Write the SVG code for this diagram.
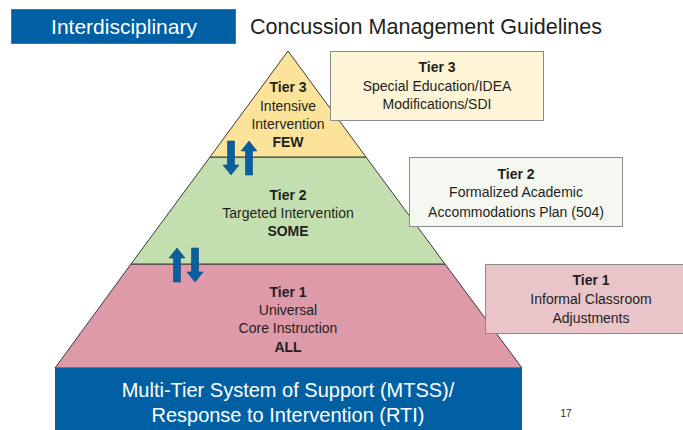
<svg xmlns="http://www.w3.org/2000/svg" width="683" height="430" viewBox="0 0 683 430">
<defs>
<style>
text{font-family:"Liberation Sans",Arial,sans-serif;fill:#231f20;text-anchor:middle}
.t{font-size:14px}
.b{font-weight:bold}
.w{fill:#ffffff}
.big{font-size:21px}
.tier{stroke:#3a3a3a;stroke-width:1}
.box{stroke:#8c8c8c;stroke-width:1}
.arr{fill:#0a5f9e;stroke:#084a7c;stroke-width:0.6}
</style>
<path id="down" d="M-3.5,0 H3.5 V24 H8 L0,34 L-8,24 H-3.5 Z"/>
</defs>
<rect width="683" height="430" fill="#ffffff"/>
<g id="header">
<rect x="11.5" y="9.5" width="224" height="34" fill="#0060a3" stroke="#5a6f80" stroke-width="1"/>
<text class="big w" x="124" y="34">Interdisciplinary</text>
<text class="big" x="250" y="34" style="text-anchor:start;font-size:21.5px" textLength="352" lengthAdjust="spacingAndGlyphs">Concussion Management Guidelines</text>
</g>
<g id="tier1">
<polygon class="tier" points="131,264 445,264 522,368 55,368" fill="#de9aa8"/>
<text class="t b" x="288" y="297">Tier 1</text>
<text class="t" x="288" y="315">Universal</text>
<text class="t" x="288" y="333">Core Instruction</text>
<text class="t b" x="288" y="352">ALL</text>
</g>
<g id="tier2">
<polygon class="tier" points="210,157 366,157 445,264 131,264" fill="#c3dfb0"/>
<text class="t b" x="288" y="200">Tier 2</text>
<text class="t" x="288" y="218">Targeted Intervention</text>
<text class="t b" x="288" y="236">SOME</text>
</g>
<g id="tier3">
<polygon class="tier" points="288,51 366,157 210,157" fill="#fbe49a"/>
<text class="t b" x="288" y="92">Tier 3</text>
<text class="t" x="288" y="111">Intensive</text>
<text class="t" x="288" y="129">Intervention</text>
<text class="t b" x="288" y="147">FEW</text>
</g>
<g id="base">
<rect x="55" y="368" width="467" height="62" fill="#0060a3"/>
<text class="w" style="font-size:20px" x="288" y="397">Multi-Tier System of Support (MTSS)/</text>
<text class="w" style="font-size:20px" x="288" y="422">Response to Intervention (RTI)</text>
</g>
<g id="box-tier3">
<rect class="box" x="330.5" y="51.5" width="213" height="69" fill="#fdf5d5"/>
<text class="t b" x="437" y="72">Tier 3</text>
<text class="t" x="437" y="91">Special Education/IDEA</text>
<text class="t" x="437" y="109">Modifications/SDI</text>
</g>
<g id="box-tier2">
<rect class="box" x="409.5" y="157.5" width="213" height="69" fill="#f5f8f1"/>
<text class="t b" x="516" y="179">Tier 2</text>
<text class="t" x="516" y="197">Formalized Academic</text>
<text class="t" x="516" y="217">Accommodations Plan (504)</text>
</g>
<g id="box-tier1">
<rect class="box" x="485.5" y="264.5" width="198" height="69" fill="#e9c5ca"/>
<text class="t b" x="591" y="285">Tier 1</text>
<text class="t" x="591" y="304">Informal Classroom</text>
<text class="t" x="591" y="323">Adjustments</text>
</g>
<g id="connectors">
<use href="#down" class="arr" transform="translate(231,141)"/>
<use href="#down" class="arr" transform="translate(249,175) rotate(180)"/>
<use href="#down" class="arr" transform="translate(177,282) rotate(180)"/>
<use href="#down" class="arr" transform="translate(195,248)"/>
</g>
<text x="566" y="417" style="font-size:10px">17</text>
</svg>
